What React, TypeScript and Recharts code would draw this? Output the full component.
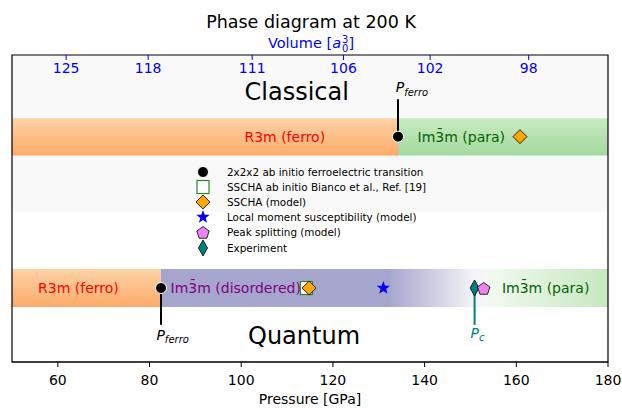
import React from 'react';
import { ComposedChart, XAxis, YAxis, Scatter, ReferenceArea, ReferenceLine, Legend } from 'recharts';

// bottom axis
const pressureTicks = [60, 80, 100, 120, 140, 160, 180];
// top axis: unit-cell volume and the pressure where it sits
const volumeLabels = [125, 118, 111, 106, 102, 98];
const volumePressures = [61.8, 79.7, 102.4, 122.3, 141.2, 162.7];

// phase boundaries [GPa]
const classicalFerroEnd = 134.2;
const quantumFerroEnd = 82.5;
const quantumFadeStart = 132;
const quantumFadeEnd = 151;
const quantumParaStart = 153.2;

// rows (y in 0..100, top = 100)
const CLASSICAL_Y = 73.4;
const QUANTUM_Y = 24.1;

// markers [GPa]
const ferroClassical = [134.2];
const ferroQuantum = [82.5];
const biancoQuantum = [114.2];
const sschaClassical = [160.8];
const sschaQuantum = [114.8];
const localMomentQuantum = [131.0];
const peakSplitQuantum = [152.9];
const experimentQuantum = [150.9];

const legendLabels = [
  '2x2x2 ab initio ferroelectric transition',
  'SSCHA ab initio Bianco et al., Ref. [19]',
  'SSCHA (model)',
  'Local moment susceptibility (model)',
  'Peak splitting (model)',
  'Experiment',
];
const legendKinds = ['circle', 'square', 'diamond', 'star', 'pentagon', 'thin'];

const IM3M = 'Im3\u0304m';
const bandLabels = [
  { x: 109.5, y: CLASSICAL_Y, text: 'R3m (ferro)', color: '#ff0000' },
  { x: 148.0, y: CLASSICAL_Y, text: IM3M + ' (para)', color: '#006400' },
  { x: 64.5, y: QUANTUM_Y, text: 'R3m (ferro)', color: '#ff0000' },
  { x: 98.8, y: QUANTUM_Y, text: IM3M + ' (disordered)', color: '#800080' },
  { x: 166.4, y: QUANTUM_Y, text: IM3M + ' (para)', color: '#006400' },
];
const regimeLabels = [
  { x: 112.1, y: 88.2, text: 'Classical' },
  { x: 113.7, y: 8.5, text: 'Quantum' },
];
const pressureLabels = [
  { x: 133.7, y: 89.5, sub: 'ferro', color: '#000000' },
  { x: 81.5, y: 8.8, sub: 'ferro', color: '#000000' },
  { x: 150.0, y: 9.5, sub: 'c', color: '#008080' },
];

const pts = (xs: number[], y: number) => xs.map((x) => ({ x, y }));

function Marker({ kind, cx, cy }: { kind: string; cx: number; cy: number }) {
  switch (kind) {
    case 'circle':
      return <circle cx={cx} cy={cy} r={5.5} fill="#000" stroke="#fff" strokeWidth={1} />;
    case 'square':
      return <rect x={cx - 6} y={cy - 6.5} width={12} height={13} fill="#fff" stroke="#228b22" strokeWidth={1.2} />;
    case 'diamond':
      return (
        <polygon
          points={`${cx},${cy - 7} ${cx + 7},${cy} ${cx},${cy + 7} ${cx - 7},${cy}`}
          fill="#ffa500"
          stroke="#000"
          strokeWidth={0.8}
        />
      );
    case 'thin':
      return (
        <polygon
          points={`${cx},${cy - 8} ${cx + 4.5},${cy} ${cx},${cy + 8} ${cx - 4.5},${cy}`}
          fill="#008080"
          stroke="#000"
          strokeWidth={0.8}
        />
      );
    case 'star': {
      const p: string[] = [];
      for (let i = 0; i < 10; i++) {
        const r = i % 2 === 0 ? 7 : 2.9;
        const a = -Math.PI / 2 + (i * Math.PI) / 5;
        p.push(`${cx + r * Math.cos(a)},${cy + r * Math.sin(a)}`);
      }
      return <polygon points={p.join(' ')} fill="#0000ff" />;
    }
    case 'pentagon': {
      const p: string[] = [];
      for (let i = 0; i < 5; i++) {
        const a = -Math.PI / 2 + (i * 2 * Math.PI) / 5;
        p.push(`${cx + 6.5 * Math.cos(a)},${cy + 1 + 6.5 * Math.sin(a)}`);
      }
      return <polygon points={p.join(' ')} fill="#ee82ee" stroke="#000" strokeWidth={0.8} />;
    }
  }
  return null;
}

const shapeOf = (kind: string) => (props: any) => <Marker kind={kind} cx={props.cx} cy={props.cy} />;

function LegendBox() {
  return (
    <div style={{ fontFamily: 'DejaVu Sans', fontSize: 10.4, color: '#000' }}>
      {legendLabels.map((label, i) => (
        <div key={label} style={{ display: 'flex', alignItems: 'center', height: 15.2 }}>
          <svg width={32} height={16} style={{ flex: 'none' }}>
            <Marker kind={legendKinds[i]} cx={8} cy={8} />
          </svg>
          <span style={{ whiteSpace: 'nowrap' }}>{label}</span>
        </div>
      ))}
    </div>
  );
}

export default function App() {
  return (
    <div style={{ position: 'absolute', left: 0, top: 0, width: 622, height: 408, background: '#fff', fontFamily: 'DejaVu Sans' }}>
      <div style={{ position: 'absolute', top: 12, width: 622, textAlign: 'center', fontSize: 17.5, color: '#000' }}>
        Phase diagram at 200 K
      </div>
      <div style={{ position: 'absolute', top: 35, width: 622, textAlign: 'center', fontSize: 14.5, color: '#0000ff' }}>
        Volume [<i>a</i>
        <span style={{ display: 'inline-flex', flexDirection: 'column', fontSize: 10, lineHeight: '9px', verticalAlign: 'middle', marginLeft: 1 }}>
          <span>3</span>
          <span>0</span>
        </span>
        ]
      </div>
      <div style={{ position: 'absolute', left: 0, top: 0 }}>
        <ComposedChart width={622} height={408} margin={{ top: 55, right: 14, bottom: 0, left: 12 }}>
          <defs>
            <linearGradient id="orangeGrad" x1="0" y1="0" x2="0" y2="1">
              <stop offset="0%" stopColor="#fdd2a6" />
              <stop offset="100%" stopColor="#fdab68" />
            </linearGradient>
            <linearGradient id="greenGrad" x1="0" y1="0" x2="0" y2="1">
              <stop offset="0%" stopColor="#c9eac3" />
              <stop offset="100%" stopColor="#a2d99c" />
            </linearGradient>
            <linearGradient id="greenFade" x1="0" y1="0" x2="1" y2="0">
              <stop offset="0%" stopColor="#f3faf1" />
              <stop offset="100%" stopColor="#c6e8bf" />
            </linearGradient>
            <linearGradient id="purpleFade" x1="0" y1="0" x2="1" y2="0">
              <stop offset="0%" stopColor="#a6a5cd" />
              <stop
                offset={`${((quantumFadeStart - quantumFerroEnd) / (quantumParaStart - quantumFerroEnd)) * 100}%`}
                stopColor="#a6a5cd"
              />
              <stop
                offset={`${((quantumFadeEnd - quantumFerroEnd) / (quantumParaStart - quantumFerroEnd)) * 100}%`}
                stopColor="#f4f4f9"
              />
              <stop offset="100%" stopColor="#f4f4f9" />
            </linearGradient>
          </defs>
          <XAxis
            xAxisId={0}
            dataKey="x"
            type="number"
            domain={[50, 180]}
            ticks={pressureTicks}
            allowDataOverflow
            height={46}
            tickSize={5}
            tickMargin={8}
            interval={0}
            stroke="#000"
            tick={{ fill: '#000', fontSize: 14, fontFamily: 'DejaVu Sans' }}
            label={{ value: 'Pressure [GPa]', position: 'insideBottom', offset: 4, fill: '#000', fontSize: 14, fontFamily: 'DejaVu Sans' }}
          />
          <XAxis
            xAxisId="top"
            dataKey="x"
            orientation="top"
            type="number"
            domain={[50, 180]}
            allowDataOverflow
            ticks={volumePressures}
            tickFormatter={(v: number) => String(volumeLabels[volumePressures.indexOf(v)])}
            interval={0}
            height={1}
            mirror
            axisLine={false}
            tickSize={5}
            tickMargin={3}
            stroke="#0000ff"
            tick={{ fill: '#0000ff', fontSize: 14, fontFamily: 'DejaVu Sans' }}
          />
          <YAxis yAxisId={0} dataKey="y" type="number" domain={[0, 100]} hide width={0} />

          <ReferenceArea x1={50} x2={180} y1={48.8} y2={100} fill="#f9f9f9" fillOpacity={1} stroke="none" />
          <ReferenceArea x1={50} x2={classicalFerroEnd} y1={67.3} y2={79.4} fill="url(#orangeGrad)" fillOpacity={1} stroke="none" />
          <ReferenceArea x1={classicalFerroEnd} x2={180} y1={67.3} y2={79.4} fill="url(#greenGrad)" fillOpacity={1} stroke="none" />
          <ReferenceArea x1={50} x2={quantumFerroEnd} y1={17.9} y2={30.3} fill="url(#orangeGrad)" fillOpacity={1} stroke="none" />
          <ReferenceArea x1={quantumFerroEnd} x2={quantumParaStart} y1={17.9} y2={30.3} fill="url(#purpleFade)" fillOpacity={1} stroke="none" />
          <ReferenceArea x1={quantumParaStart} x2={180} y1={17.9} y2={30.3} fill="url(#greenFade)" fillOpacity={1} stroke="none" />

          <ReferenceLine segment={[{ x: ferroClassical[0], y: CLASSICAL_Y }, { x: ferroClassical[0], y: 85.6 }]} stroke="#000" strokeWidth={2} />
          <ReferenceLine segment={[{ x: ferroQuantum[0], y: QUANTUM_Y }, { x: ferroQuantum[0], y: 12.1 }]} stroke="#000" strokeWidth={2} />
          <ReferenceLine segment={[{ x: experimentQuantum[0], y: QUANTUM_Y }, { x: experimentQuantum[0], y: 12.1 }]} stroke="#008080" strokeWidth={2} />

          <Scatter
            data={bandLabels}
            isAnimationActive={false}
            shape={(p: any) => (
              <text x={p.cx} y={p.cy} dy={5} textAnchor="middle" fontSize={14} fill={p.payload.color} fontFamily="DejaVu Sans">
                {p.payload.text}
              </text>
            )}
          />
          <Scatter
            data={regimeLabels}
            isAnimationActive={false}
            shape={(p: any) => (
              <text x={p.cx} y={p.cy} dy={8.5} textAnchor="middle" fontSize={24} fill="#000" fontFamily="DejaVu Sans">
                {p.payload.text}
              </text>
            )}
          />
          <Scatter
            data={pressureLabels}
            isAnimationActive={false}
            shape={(p: any) => (
              <text x={p.cx} y={p.cy} dy={5} fontSize={14} fill={p.payload.color} fontFamily="DejaVu Sans" fontStyle="italic">
                <tspan>P</tspan>
                <tspan dy={3.5} fontSize={10}>{p.payload.sub}</tspan>
              </text>
            )}
          />

          <Scatter data={pts(ferroClassical, CLASSICAL_Y)} isAnimationActive={false} shape={shapeOf('circle')} />
          <Scatter data={pts(sschaClassical, CLASSICAL_Y)} isAnimationActive={false} shape={shapeOf('diamond')} />
          <Scatter data={pts(ferroQuantum, QUANTUM_Y)} isAnimationActive={false} shape={shapeOf('circle')} />
          <Scatter data={pts(biancoQuantum, QUANTUM_Y)} isAnimationActive={false} shape={shapeOf('square')} />
          <Scatter data={pts(sschaQuantum, QUANTUM_Y)} isAnimationActive={false} shape={shapeOf('diamond')} />
          <Scatter data={pts(localMomentQuantum, QUANTUM_Y)} isAnimationActive={false} shape={shapeOf('star')} />
          <Scatter data={pts(experimentQuantum, QUANTUM_Y)} isAnimationActive={false} shape={shapeOf('thin')} />
          <Scatter data={pts(peakSplitQuantum, QUANTUM_Y)} isAnimationActive={false} shape={shapeOf('pentagon')} />

          <ReferenceArea x1={50} x2={180} y1={0} y2={100} fill="none" stroke="#000" strokeWidth={1.2} />

          <Legend
            layout="vertical"
            align="center"
            verticalAlign="middle"
            content={() => <LegendBox />}
            wrapperStyle={{ left: 195, top: 164, width: 290 }}
          />
        </ComposedChart>
      </div>
    </div>
  );
}
